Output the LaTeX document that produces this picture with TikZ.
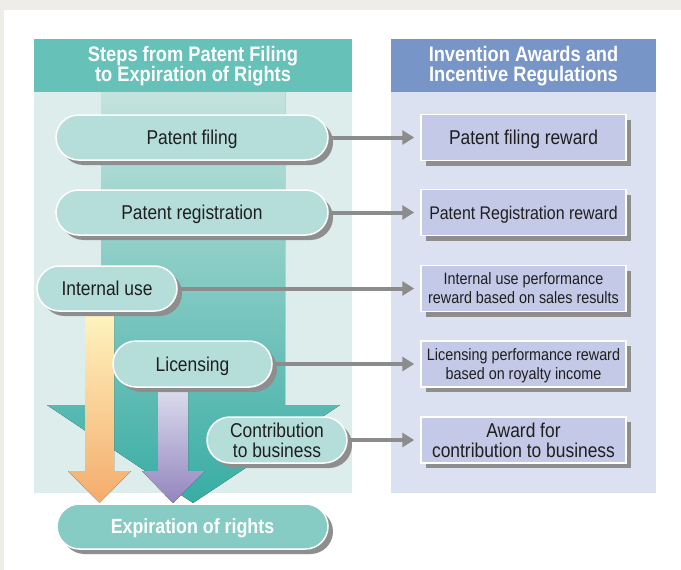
\documentclass[tikz,border=0pt]{standalone}
\usepackage{fontspec}
\setmainfont{Liberation Sans}[FakeStretch=0.87]
\usetikzlibrary{shapes.misc}
\usetikzlibrary{shadows}
\usetikzlibrary{arrows.meta}
\definecolor{pagegray}{HTML}{EEEDE7}
\definecolor{stephead}{HTML}{66C1B8}
\definecolor{stepbody}{HTML}{DDEDEC}
\definecolor{awardhead}{HTML}{7895C8}
\definecolor{awardbody}{HTML}{DCE1F1}
\definecolor{stagefill}{HTML}{B5DEDA}
\definecolor{endfill}{HTML}{86CCC4}
\definecolor{rewardfill}{HTML}{C3C9E6}
\definecolor{shadegray}{HTML}{8E8E8E}
\definecolor{linkgray}{HTML}{8C8C8C}
\definecolor{bigtop}{HTML}{C4E3DE}
\definecolor{bigbot}{HTML}{38ADA4}
\definecolor{usetop}{HTML}{FFF7C2}
\definecolor{usebot}{HTML}{F4AC6C}
\definecolor{lictop}{HTML}{DEDFF0}
\definecolor{licbot}{HTML}{9385BE}
\tikzstyle{header}=[text=white, align=center, font=\bfseries\fontsize{21}{20}\selectfont]
\tikzstyle{stage}=[rounded rectangle, draw=white, line width=1.5pt, fill=stagefill,
  minimum height=45pt, inner sep=0pt, align=center, text=black!88, text depth=0pt,
  font=\fontsize{20}{20}\selectfont,
  drop shadow={shadow xshift=5pt, shadow yshift=-5pt, fill=shadegray, opacity=1}]
\tikzstyle{reward}=[rectangle, draw=white, line width=1.5pt, fill=rewardfill,
  minimum width=205pt, minimum height=46pt, inner sep=0pt, align=center, text=black!88,
  text depth=0pt, font=\fontsize{20}{20}\selectfont,
  drop shadow={shadow xshift=5pt, shadow yshift=-5pt, fill=shadegray, opacity=1}]
\tikzstyle{smallreward}=[reward, font=\fontsize{16.5}{19}\selectfont]
\tikzstyle{arrlink}=[-{Triangle[length=12pt,width=14pt]}, line width=4pt,
  draw=linkgray, shorten >=6pt]
\begin{document}
\begin{tikzpicture}[x=1pt, y=-1pt]
\useasboundingbox (0,0) rectangle (681,570);
\fill[pagegray] (0,0) rectangle (681,570);
\fill[white] (4,10) rectangle (681,570);

% the two panels
\fill[stepbody] (34,92) rectangle (352,493);
\fill[stephead] (34,39) rectangle (352,92);
\fill[awardbody] (391,92) rectangle (656,493);
\fill[awardhead] (391,39) rectangle (656,92);
\node[header] (stepstitle) at (193,66) {Steps from Patent Filing\\to Expiration of Rights};
\node[header] (awardstitle) at (523.5,66) {Invention Awards and\\Incentive Regulations};

% big arrow behind the steps
\fill[top color=bigtop, bottom color=bigbot] (101,92) -- (285,92) -- (285,405)
  -- (340,405) -- (193,503) -- (47,405) -- (101,405) -- cycle;
\fill[top color=usetop, bottom color=usebot] (85,305) -- (114,305) -- (114,471)
  -- (131,471) -- (99.5,503) -- (68,471) -- (85,471) -- cycle;
\fill[top color=lictop, bottom color=licbot] (158,385) -- (188,385) -- (188,471)
  -- (205,471) -- (173,503) -- (142,471) -- (158,471) -- cycle;

% steps
\node[stage, minimum width=272pt] (filing) at (192,137.5) {Patent filing};
\node[stage, minimum width=272pt] (registration) at (192,212.5) {Patent registration};
\node[stage, minimum width=140pt] (internal) at (107,288.5) {Internal use};
\node[stage, minimum width=159pt, minimum height=46pt] (licensing) at (192.5,364) {Licensing};
\node[stage, minimum width=140pt, minimum height=46pt] (contribution) at (277,440) {Contribution\\to business};
\node[stage, minimum width=271pt, fill=endfill, text=white,
  font=\bfseries\fontsize{20.5}{20}\selectfont] (expiration) at (192.5,526.5) {Expiration of rights};

% rewards
\node[reward] (filingrw) at (523.5,137.5) {Patent filing reward};
\node[reward, font=\fontsize{18.3}{20}\selectfont] (registrationrw) at (523.5,212.5) {Patent Registration reward};
\node[smallreward] (internalrw) at (523.5,288.5) {Internal use performance\\reward based on sales results};
\node[smallreward] (licensingrw) at (523.5,364) {Licensing performance reward\\based on royalty income};
\node[reward] (contributionrw) at (523.5,440) {Award for\\contribution to business};

\draw[arrlink] (filing.east) -- (filingrw.west);
\draw[arrlink] (registration.east) -- (registrationrw.west);
\draw[arrlink] (internal.east) -- (internalrw.west);
\draw[arrlink] (licensing.east) -- (licensingrw.west);
\draw[arrlink] (contribution.east) -- (contributionrw.west);

\end{tikzpicture}
\end{document}
